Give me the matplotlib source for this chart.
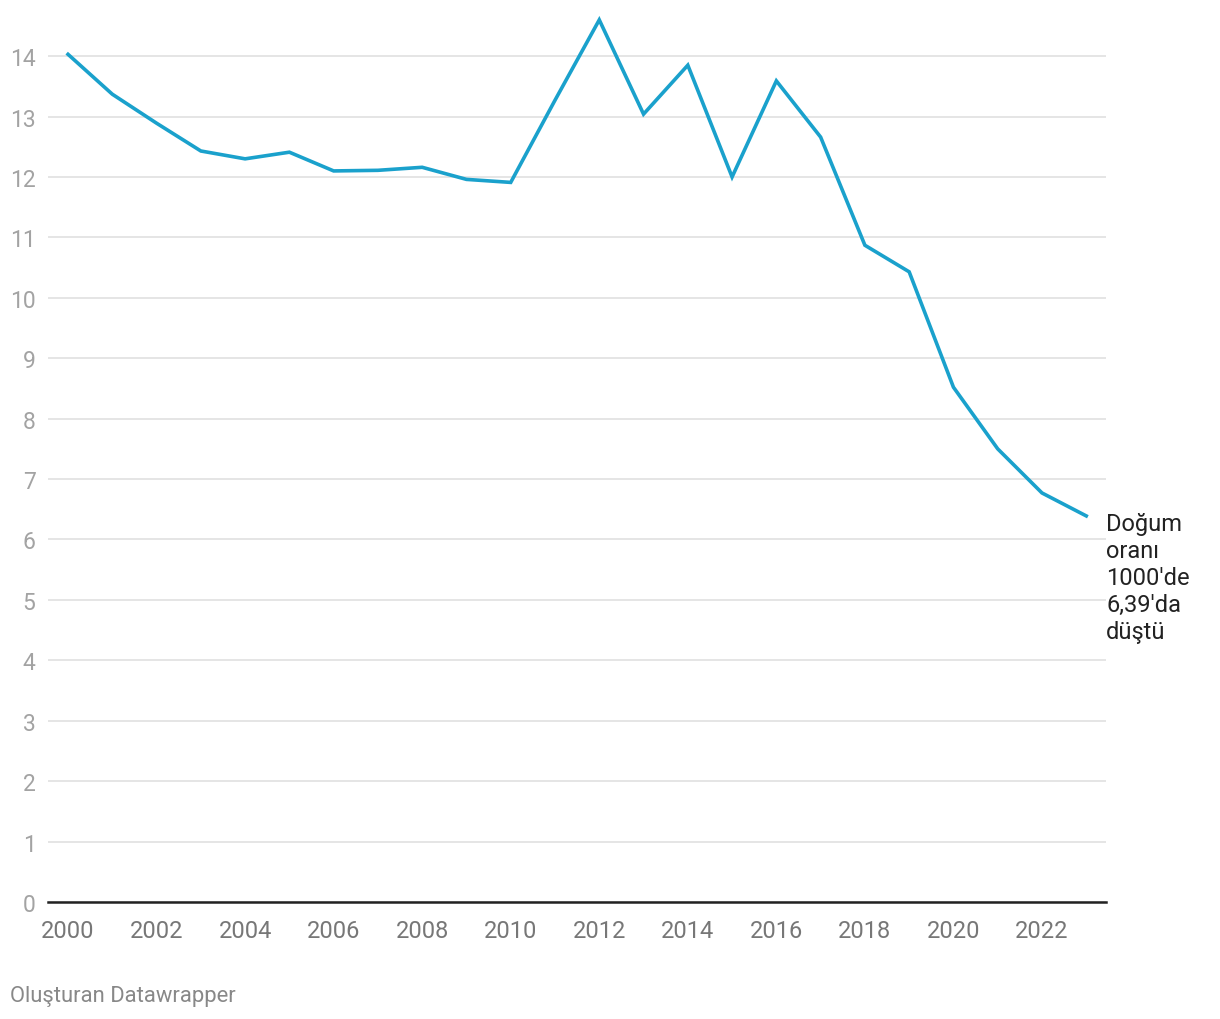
import matplotlib
matplotlib.use("Agg")
import matplotlib.pyplot as plt

plt.rcParams['font.family'] = ['Roboto', 'DejaVu Sans']

years = list(range(2000, 2024))
birth_rate = [14.03, 13.37, 12.89, 12.43, 12.30, 12.41, 12.10, 12.11, 12.16, 11.96,
              11.91, 13.27, 14.60, 13.04, 13.85, 12.00, 13.59, 12.66, 10.87, 10.43,
              8.52, 7.50, 6.77, 6.39]
y_ticks = list(range(0, 15))
x_ticks = list(range(2000, 2023, 2))
note = "Doğum\noranı\n1000'de\n6,39'da\ndüştü"
credit = "Oluşturan Datawrapper"

fig = plt.figure(figsize=(12.2, 10.2), dpi=100)
ax = fig.add_axes([48/1220, 117/1020, (1106-48)/1220, (903-10)/1020])

ax.plot(years, birth_rate, color='#1aa1cc', lw=2.6, solid_joinstyle='miter', zorder=3)

ax.set_xlim(1999.548, 2023.446)
ax.set_ylim(0, 14.78)
ax.set_yticks(y_ticks)
ax.set_xticks(x_ticks)
ax.grid(axis='y', color='#e3e3e3', lw=1.3)
ax.set_axisbelow(True)
for s in ['top', 'right', 'left']:
    ax.spines[s].set_visible(False)
ax.spines['bottom'].set_color('#222222')
ax.spines['bottom'].set_linewidth(1.8)
ax.spines['bottom'].set_zorder(4)
ax.tick_params(axis='y', length=0, pad=9, labelsize=16.5, labelcolor='#a3a3a3')
ax.tick_params(axis='x', length=0, pad=12, labelsize=17, labelcolor='#777777')

ax.annotate(note, xy=(1, birth_rate[-1]), xycoords=('axes fraction', 'data'),
            xytext=(0, 3), textcoords='offset points', ha='left', va='top',
            fontsize=17, color='#222222', linespacing=1.22, annotation_clip=False)

fig.text(10/1220, 1 - 997/1020, credit, fontsize=15.8, color='#888888', va='center', ha='left')

fig.savefig('out.png', dpi=100, facecolor='white')
